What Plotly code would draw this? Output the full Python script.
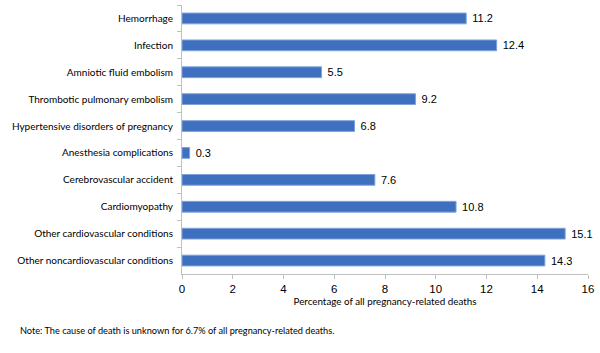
import plotly.graph_objects as go

categories = ["Hemorrhage", "Infection", "Amniotic fluid embolism", "Thrombotic pulmonary embolism",
              "Hypertensive disorders of pregnancy", "Anesthesia complications", "Cerebrovascular accident",
              "Cardiomyopathy", "Other cardiovascular conditions", "Other noncardiovascular conditions"]
values = [11.2, 12.4, 5.5, 9.2, 6.8, 0.3, 7.6, 10.8, 15.1, 14.3]
x_ticks = [0, 2, 4, 6, 8, 10, 12, 14, 16]

fig = go.Figure(go.Bar(
    y=categories, x=values, orientation="h", width=0.4,
    marker=dict(color="#3F70C0", line=dict(color="#7FA2D8", width=1)),
    text=[f" {v:.1f}" for v in values], textposition="outside", constraintext="none",
    textfont=dict(family="Liberation Sans, Arial", size=11, color="#000"),
    cliponaxis=False,
))

fig.update_layout(
    width=600, height=353, margin=dict(l=182, r=12, t=5, b=79),
    paper_bgcolor="white", plot_bgcolor="white", showlegend=False,
    bargap=0.6,
    font=dict(family="Lato, Noto Sans", color="#000"),
    annotations=[dict(text="Note: The cause of death is unknown for 6.7% of all pregnancy-related deaths.",
                      xref="paper", yref="paper", x=-164/406, y=-56/269, xanchor="left", yanchor="middle",
                      showarrow=False, font=dict(family="Lato, Noto Sans", size=9.2, color="#000"))],
)
fig.update_xaxes(range=[0, 16], tickvals=x_ticks, showgrid=False, zeroline=False,
                 showline=True, linecolor="#BFBFBF", linewidth=1,
                 ticks="outside", ticklen=4, tickcolor="#BFBFBF",
                 tickfont=dict(family="Liberation Sans, Arial", size=11.5, color="#000"),
                 title=dict(text="Percentage of all pregnancy-related deaths", standoff=4,
                            font=dict(family="Lato, Noto Sans", size=9.8, color="#000")))
fig.update_yaxes(autorange="reversed", showgrid=False, zeroline=False,
                 showline=True, linecolor="#BFBFBF", linewidth=1,
                 ticks="outside", ticklen=4, tickcolor="#BFBFBF", tickson="boundaries",
                 ticklabelstandoff=6,
                 tickfont=dict(family="Lato, Noto Sans", size=10, color="#000"))

fig.write_html("out.html")
